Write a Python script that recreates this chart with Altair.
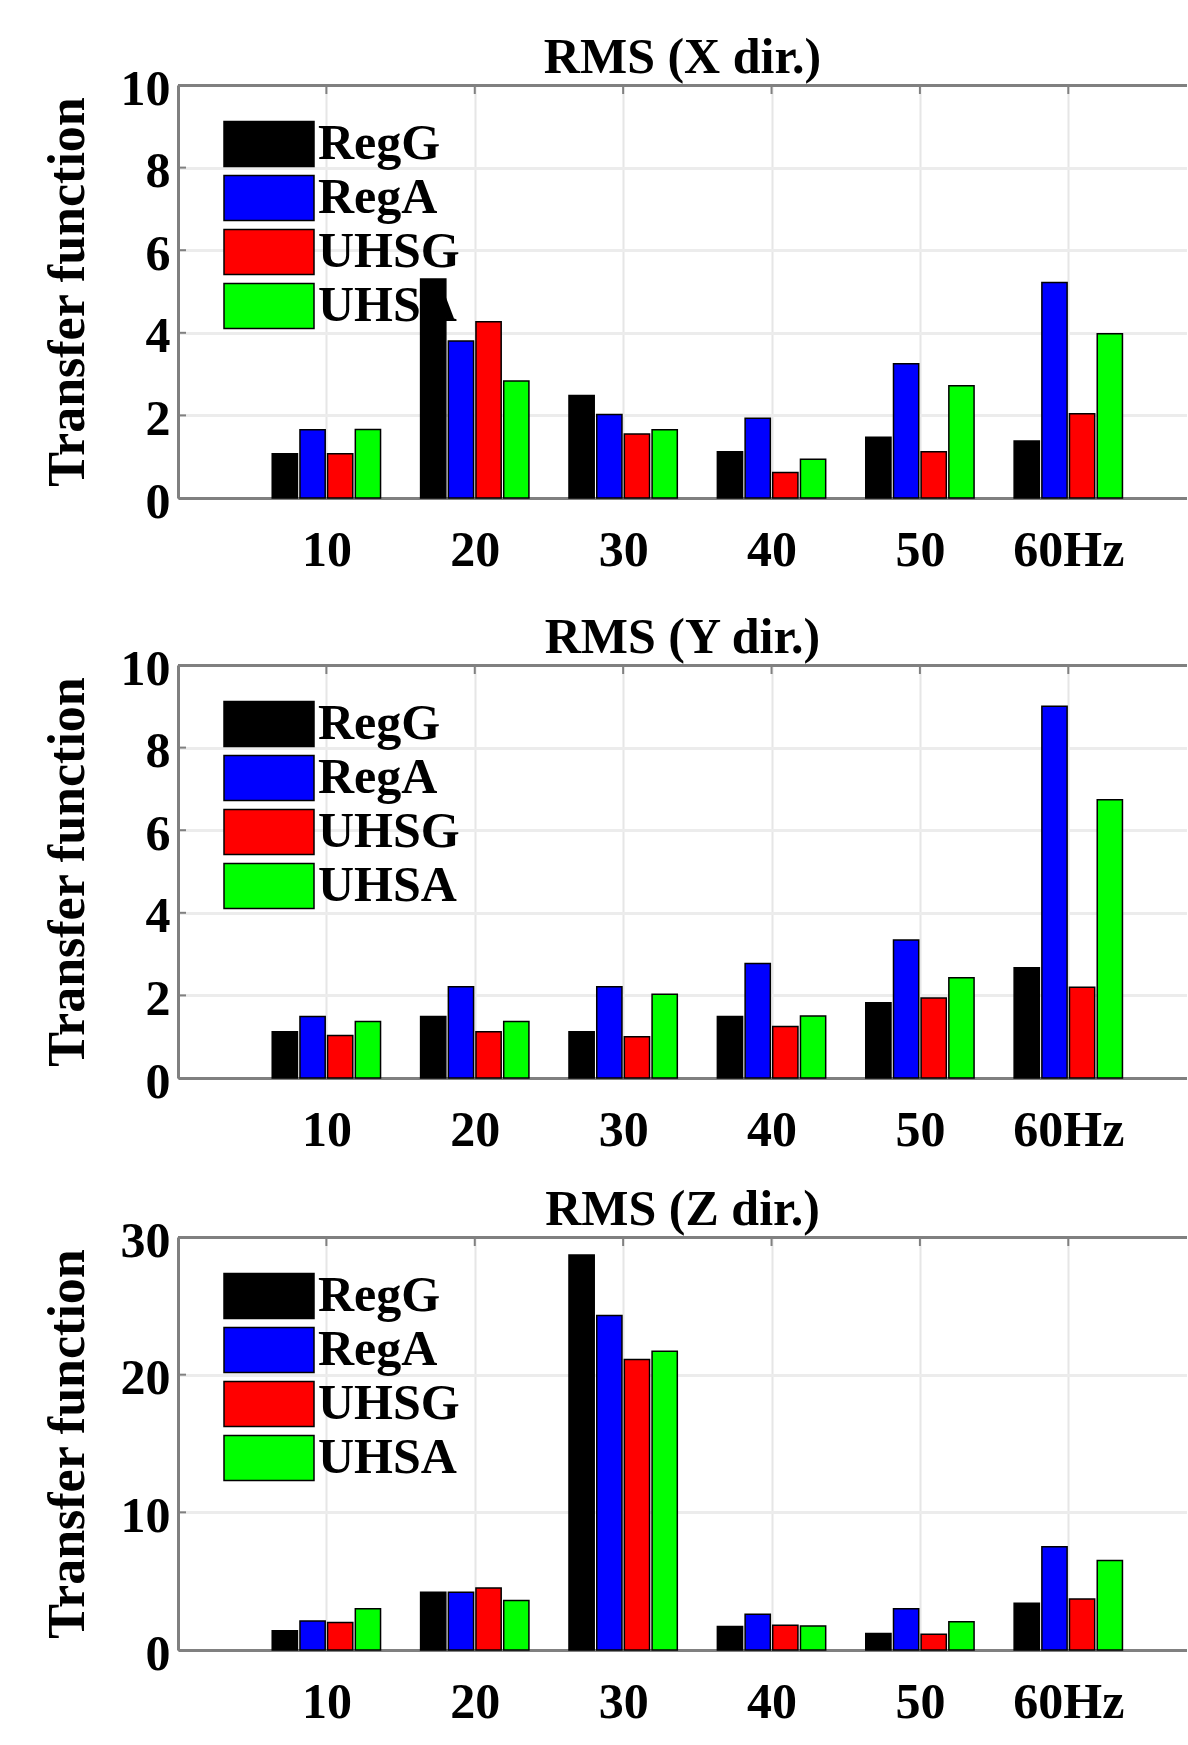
import altair as alt
import pandas as pd

freq_labels = ["10", "20", "30", "40", "50", "60Hz"]
freq_pos = [1, 2, 3, 4, 5, 6]
series = ["RegG", "RegA", "UHSG", "UHSA"]
colors = ["#000000", "#0000ff", "#ff0000", "#00ff00"]
titles = ["RMS (X dir.)", "RMS (Y dir.)", "RMS (Z dir.)"]

# Panel X
x_regg = [1.07, 5.30, 2.48, 1.12, 1.47, 1.38]
x_rega = [1.65, 3.80, 2.02, 1.93, 3.25, 5.22]
x_uhsg = [1.07, 4.27, 1.55, 0.62, 1.12, 2.04]
x_uhsa = [1.66, 2.83, 1.65, 0.94, 2.72, 3.98]
# Panel Y
y_regg = [1.12, 1.49, 1.12, 1.49, 1.82, 2.67]
y_rega = [1.49, 2.21, 2.21, 2.77, 3.34, 9.00]
y_uhsg = [1.03, 1.12, 1.00, 1.25, 1.94, 2.20]
y_uhsa = [1.37, 1.37, 2.03, 1.50, 2.43, 6.74]
# Panel Z
z_regg = [1.40, 4.20, 28.7, 1.70, 1.20, 3.40]
z_rega = [2.10, 4.20, 24.3, 2.60, 3.00, 7.50]
z_uhsg = [2.00, 4.50, 21.1, 1.80, 1.15, 3.70]
z_uhsa = [3.00, 3.60, 21.7, 1.75, 2.05, 6.50]

y_max = [10, 10, 30]
y_ticks = [[0, 2, 4, 6, 8, 10], [0, 2, 4, 6, 8, 10], [0, 10, 20, 30]]
panel_data = [
    [x_regg, x_rega, x_uhsg, x_uhsa],
    [y_regg, y_rega, y_uhsg, y_uhsa],
    [z_regg, z_rega, z_uhsg, z_uhsa],
]

FONT = "Liberation Serif"
GRAY = "#808080"
X_DOMAIN = [0, 6.8]
W, H = 1009, 413
bar_offsets = [-0.28, -0.093, 0.093, 0.28]
bar_w = 0.17

label_js = "[" + ",".join("'%s'" % s for s in freq_labels) + "]"


def panel(idx):
    rows = []
    for s_i, (name, vals) in enumerate(zip(series, panel_data[idx])):
        for pos, v in zip(freq_pos, vals):
            c = pos + bar_offsets[s_i]
            rows.append({"series": name, "order": s_i, "value": v,
                         "x0": c - bar_w / 2, "x1": c + bar_w / 2})
    df = pd.DataFrame(rows)
    xscale = alt.Scale(domain=X_DOMAIN, nice=False, zero=False)
    yscale = alt.Scale(domain=[0, y_max[idx]], nice=False)

    bars = alt.Chart(df).mark_bar(stroke="black", strokeWidth=1.5, opacity=1).encode(
        x=alt.X("x0:Q", scale=xscale,
                axis=alt.Axis(orient="bottom", values=freq_pos,
                              labelExpr=label_js + "[datum.value-1]",
                              title=None, ticks=False, labelPadding=27,
                              grid=True, gridColor="#e6e6e6", gridWidth=2,
                              domainColor=GRAY, domainWidth=3,
                              labelFont=FONT, labelFontSize=50,
                              labelFontWeight="bold", labelColor="black")),
        x2="x1:Q",
        y=alt.Y("value:Q", scale=yscale,
                axis=alt.Axis(values=y_ticks[idx], title="Transfer function",
                              ticks=False, labelPadding=8, labelOffset=4,
                              grid=True, gridColor="#ececec", gridWidth=3,
                              domainColor=GRAY, domainWidth=3,
                              labelFont=FONT, labelFontSize=50,
                              labelFontWeight="bold", labelColor="black",
                              titleFont=FONT, titleFontSize=52,
                              titleFontWeight="bold", titleColor="black",
                              titlePadding=26)),
        y2=alt.datum(0),
        color=alt.Color("series:N",
                        scale=alt.Scale(domain=series, range=colors),
                        sort=series,
                        legend=alt.Legend(
                            orient="none", legendX=54, legendY=22,
                            title=None, direction="vertical",
                            padding=12,
                            symbolType="M-2,-1H2V1H-2Z",
                            symbolSize=2025, symbolStrokeColor="black",
                            symbolStrokeWidth=1.5, symbolOpacity=1,
                            labelFont=FONT, labelFontSize=50,
                            labelFontWeight="bold", labelColor="black",
                            labelOffset=24, rowPadding=2)),
        order="order:Q",
    )

    cats = pd.DataFrame({"pos": freq_pos})
    top = alt.Chart(cats).mark_rule(color=GRAY, strokeWidth=2).encode(
        x=alt.X("pos:Q", scale=xscale,
                axis=alt.Axis(orient="top", labels=False, ticks=False,
                              grid=False, title=None,
                              domainColor=GRAY, domainWidth=3)),
        y=alt.value(0), y2=alt.value(9),
    )
    yt = pd.DataFrame({"t": y_ticks[idx]})
    left = alt.Chart(yt).mark_rule(color=GRAY, strokeWidth=2).encode(
        y=alt.Y("t:Q", scale=yscale),
        x=alt.value(0), x2=alt.value(8),
    )
    return alt.layer(bars, top, left).resolve_axis(x="independent").properties(
        width=W, height=H,
        title=alt.TitleParams(titles[idx], font=FONT, fontSize=50,
                              fontWeight="bold", color="black", offset=-19),
    )


upper = alt.vconcat(panel(0), panel(1), spacing=38).resolve_scale(color="independent")
chart = alt.vconcat(upper, panel(2), spacing=30).resolve_scale(
    color="independent"
).configure_view(stroke=None).properties(
    padding={"left": 41, "right": 0, "top": 33, "bottom": 0},
    background="white",
)

chart.save("out.html", embed_options={"renderer": "svg", "actions": False})
